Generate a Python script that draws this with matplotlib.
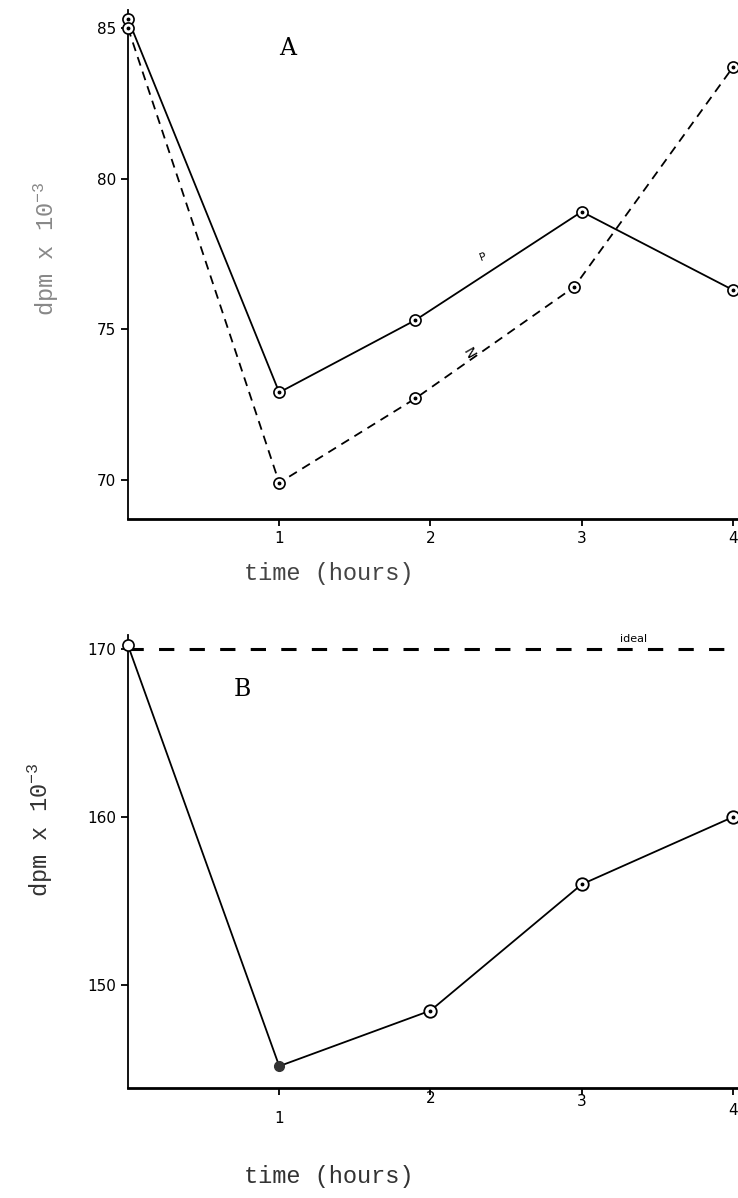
import matplotlib
matplotlib.use("Agg")
import matplotlib.pyplot as plt
from matplotlib.transforms import ScaledTranslation

plt.rcParams['mathtext.fontset'] = 'custom'
plt.rcParams['mathtext.rm'] = 'Liberation Mono'
plt.rcParams['mathtext.it'] = 'Liberation Mono'

# panel A
time_p = [0, 1, 1.9, 3, 4]
dpm_p = [85.3, 72.9, 75.3, 78.9, 76.3]
time_n = [0, 1, 1.9, 2.95, 4]
dpm_n = [85.0, 69.9, 72.7, 76.4, 83.7]

# panel B
time_b = [0, 1, 2, 3, 4]
dpm_b = [170.2, 145.2, 148.5, 156.0, 160.0]
ideal = 170.0

yticks_a = [70, 75, 80, 85]
yticks_b = [150, 160, 170]
xticks = [1, 2, 3, 4]

mono = 'Liberation Mono'

fig = plt.figure(figsize=(7.38, 11.98), dpi=100)
ax1 = fig.add_axes([0.1734, 0.5668, 0.826, 0.425])
ax2 = fig.add_axes([0.1734, 0.0918, 0.826, 0.378])


def circles(ax, x, y, ls):
    ax.plot(x, y, color='black', ls=ls, lw=1.3, marker='o', ms=8,
            mfc='white', mec='black', mew=1.2, clip_on=False, zorder=3)
    ax.plot(x, y, ls='none', marker='o', ms=1.8, color='black',
            clip_on=False, zorder=4)


def style(ax):
    for s in ['top', 'right']:
        ax.spines[s].set_visible(False)
    ax.spines['left'].set_linewidth(1.3)
    ax.spines['bottom'].set_linewidth(2)
    ax.set_xlim(0, 4.03)
    ax.set_xticks(xticks)
    ax.tick_params(axis='both', direction='out', length=5, width=1.3,
                   labelsize=11)


# ---- A ----
circles(ax1, time_p, dpm_p, '-')
circles(ax1, time_n, dpm_n, (0, (5, 3.5)))
ax1.set_ylim(68.7, 85.6)
ax1.set_yticks(yticks_a)
style(ax1)
ax1.set_xlabel('time (hours)', fontname=mono, fontsize=17, color='#444444')
ax1.xaxis.set_label_coords(0.33, -0.085)
ax1.set_ylabel('dpm x 10$^{-3}$', fontname=mono, fontsize=17,
               color='#888888')
ax1.yaxis.set_label_coords(-0.11, 0.53)
ax1.text(1.0, 84.1, 'A', fontname='DejaVu Serif', fontsize=17)
ax1.text(2.35, 77.4, 'P', fontsize=8, rotation=20, ha='center', va='center')
ax1.text(2.25, 74.2, 'N', fontsize=10, rotation=-60, ha='center',
         va='center')

# ---- B ----
ax2.axhline(ideal, color='black', ls=(0, (5, 5)), lw=2.2, zorder=1)
ax2.plot(time_b, dpm_b, color='black', lw=1.3, zorder=2, clip_on=False)
ax2.plot(time_b[0], dpm_b[0], ls='none', marker='o', ms=8, mfc='white',
         mec='black', mew=1.2, clip_on=False, zorder=3)
ax2.plot(time_b[1], dpm_b[1], ls='none', marker='o', ms=7, color='#333333',
         clip_on=False, zorder=3)
ax2.plot(time_b[2:], dpm_b[2:], ls='none', marker='o', ms=9, mfc='white',
         mec='black', mew=1.3, clip_on=False, zorder=3)
ax2.plot(time_b[2:], dpm_b[2:], ls='none', marker='o', ms=1.8,
         color='black', clip_on=False, zorder=4)
ax2.set_ylim(143.9, 170.8)
ax2.set_yticks(yticks_b)
style(ax2)
ax2.set_xlabel('time (hours)', fontname=mono, fontsize=17, color='#333333')
ax2.xaxis.set_label_coords(0.33, -0.17)
ax2.set_ylabel('dpm x 10$^{-3}$', fontname=mono, fontsize=17,
               color='#333333')
ax2.yaxis.set_label_coords(-0.12, 0.57)
ax2.text(0.7, 167.2, 'B', fontname='DejaVu Serif', fontsize=17)
ax2.text(3.25, 170.4, 'ideal', fontsize=8)

# hand-lettered tick numbers in B sit at uneven heights
for lbl, dy in zip(ax2.get_xticklabels(), [-8, 6, 4, -2]):
    lbl.set_transform(lbl.get_transform() +
                      ScaledTranslation(0, dy / 72, fig.dpi_scale_trans))

fig.savefig('out.png', dpi=100)
